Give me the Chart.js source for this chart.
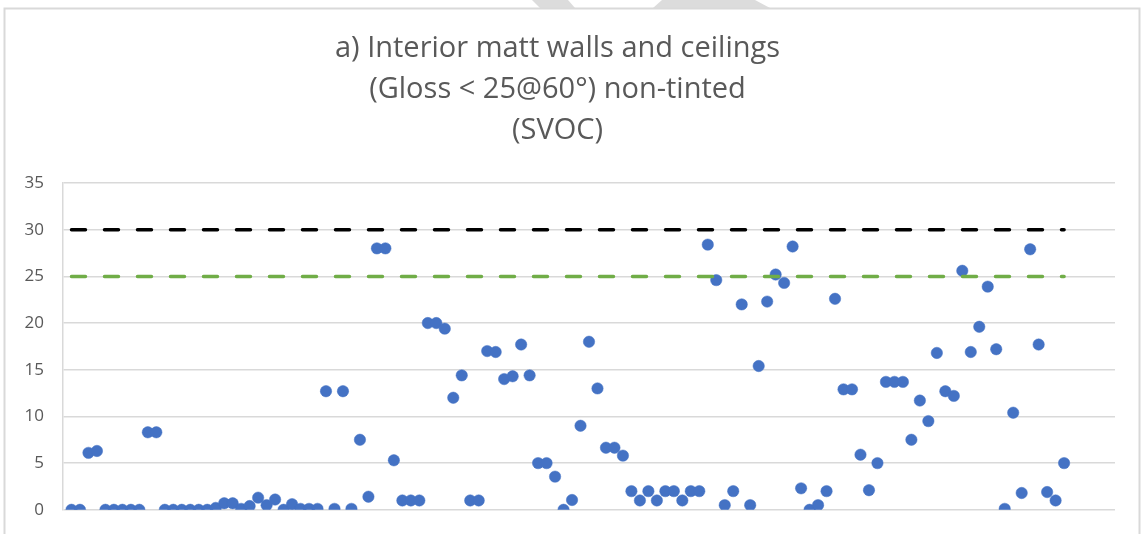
<!DOCTYPE html>
<html>
<head>
<meta charset="utf-8">
<script src="https://cdn.jsdelivr.net/npm/chart.js@4/dist/chart.umd.min.js"></script>
<style>
  body { margin: 0; background: #fff; }
</style>
</head>
<body>
<canvas id="myChart" width="1141" height="534"></canvas>
<script>
const titleLines = ['a) Interior matt walls and ceilings', '(Gloss < 25@60°) non-tinted', '(SVOC)']

// SVOC values per sample (sample 1..118)
const svocValues = [
  0, 0, 6.1, 6.3, 0, 0, 0, 0, 0, 8.3,
  8.3, 0, 0, 0, 0, 0, 0, 0.2, 0.7, 0.7,
  0.1, 0.4, 1.3, 0.5, 1.1, 0, 0.6, 0.1, 0.1, 0.1,
  12.7, 0.1, 12.7, 0.1, 7.5, 1.4, 28.0, 28.0, 5.3, 1.0,
  1.0, 1.0, 20.0, 20.0, 19.4, 12.0, 14.4, 1.0, 1.0, 17.0,
  16.9, 14.0, 14.3, 17.7, 14.4, 5.0, 5.0, 3.55, 0, 1.05,
  9.0, 18.0, 13.0, 6.65, 6.65, 5.8, 2.0, 1.0, 2.0, 1.0,
  2.0, 2.0, 1.0, 2.0, 2.0, 28.4, 24.6, 0.5, 2.0, 22.0,
  0.5, 15.4, 22.3, 25.2, 24.3, 28.2, 2.3, 0, 0.5, 2.0,
  22.6, 12.9, 12.9, 5.9, 2.1, 5.0, 13.7, 13.7, 13.7, 7.5,
  11.7, 9.5, 16.8, 12.7, 12.2, 25.6, 16.9, 19.6, 23.9, 17.2,
  0.1, 10.4, 1.8, 27.9, 17.7, 1.9, 1.0, 5.0
]
const sampleIds = svocValues.map((v, i) => i + 1)

const upperLimit = 30
const lowerLimit = 25
const yTicks = [0, 5, 10, 15, 20, 25, 30, 35]

const firstSample = sampleIds[0]
const lastSample = sampleIds[sampleIds.length - 1]

function limitLine(value) {
  return [{ x: firstSample, y: value }, { x: lastSample, y: value }]
}

// frame around the chart plus the faint watermark shapes at the top edge
const framePlugin = {
  id: 'frame',
  beforeDraw(chart) {
    const c = chart.ctx
    c.save()
    c.fillStyle = '#fff'
    c.fillRect(0, 0, chart.width, chart.height)
    c.fillStyle = '#dcdcdc'
    c.beginPath()
    c.moveTo(532, 0); c.lineTo(568, 0); c.lineTo(575, 8); c.lineTo(540, 8); c.closePath()
    c.fill()
    c.beginPath()
    c.moveTo(662, 0); c.lineTo(755, 0); c.lineTo(770, 8); c.lineTo(653, 8); c.closePath()
    c.fill()
    c.strokeStyle = '#d9d9d9'
    c.lineWidth = 2
    c.beginPath()
    c.moveTo(4.5, 534); c.lineTo(4.5, 8.5); c.lineTo(1139.5, 8.5); c.lineTo(1139.5, 534)
    c.stroke()
    c.restore()
  }
}

new Chart(document.getElementById('myChart'), {
  type: 'scatter',
  data: {
    datasets: [
      {
        label: 'Limit 30',
        type: 'line',
        data: limitLine(upperLimit),
        borderColor: '#000000',
        borderWidth: 3.5,
        borderDash: [14, 19],
        borderCapStyle: 'round',
        pointRadius: 0,
        fill: false
      },
      {
        label: 'Limit 25',
        type: 'line',
        data: limitLine(lowerLimit),
        borderColor: '#70ad47',
        borderWidth: 3.5,
        borderDash: [14, 19],
        borderCapStyle: 'round',
        pointRadius: 0,
        fill: false
      },
      {
        label: 'SVOC',
        data: svocValues.map((v, i) => ({ x: sampleIds[i], y: v })),
        backgroundColor: '#4472c4',
        borderColor: '#4472c4',
        borderWidth: 0.5,
        pointRadius: 5.7,
        pointHoverRadius: 5.7
      }
    ]
  },
  options: {
    responsive: false,
    animation: false,
    devicePixelRatio: 1,
    layout: { padding: { top: 28, right: 26, bottom: 0, left: 0 } },
    plugins: {
      legend: { display: false },
      tooltip: { enabled: false },
      title: {
        display: true,
        text: titleLines,
        color: '#595959',
        font: { family: 'Open Sans', size: 29, weight: 'normal', lineHeight: 1.414 },
        padding: { top: 0, bottom: 32 }
      }
    },
    scales: {
      x: {
        type: 'linear',
        min: 0,
        max: 124,
        display: false
      },
      y: {
        min: 0,
        max: 35,
        afterBuildTicks: (axis) => { axis.ticks = yTicks.map(v => ({ value: v })) },
        afterFit: (axis) => { axis.width = 63 },
        grid: { color: '#d9d9d9', lineWidth: 1.5, drawTicks: true, tickLength: 5, tickColor: 'rgba(0,0,0,0)' },
        border: { display: true, color: '#d9d9d9', width: 1.5 },
        ticks: {
          color: '#595959',
          padding: 14,
          font: { family: 'Open Sans', size: 17 }
        }
      }
    }
  },
  plugins: [framePlugin]
})
</script>
</body>
</html>
